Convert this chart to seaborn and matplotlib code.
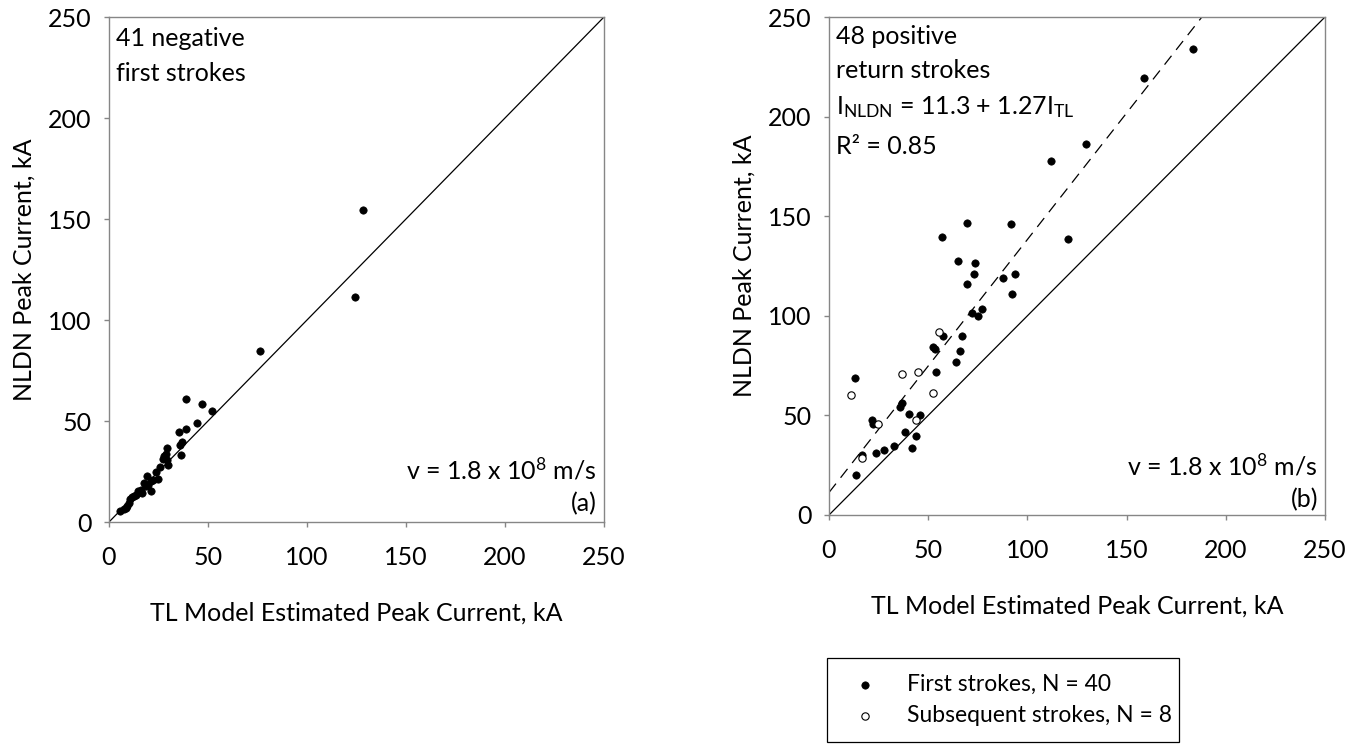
import numpy as np
import pandas as pd
import matplotlib
matplotlib.use("Agg")
import matplotlib.pyplot as plt
import seaborn as sns

# (a) 41 negative first strokes: TL model estimate vs NLDN peak current, kA
tl_neg = [128.1, 124.2, 76.1, 38.7, 47.1, 52.2, 44.6, 35.4, 38.7, 37.0,
          35.9, 36.5, 29.5, 28.6, 27.3, 29.1, 30.0, 23.9, 19.2, 24.7,
          21.0, 17.7, 19.9, 21.0, 16.0, 14.6, 16.5, 13.5, 11.8, 10.6,
          9.3, 8.4, 5.4, 12.5, 15.5, 18.5, 22.0, 10.0, 7.5, 26.0, 28.0]
nldn_neg = [154.3, 111.2, 84.5, 61.1, 58.3, 54.8, 49.0, 44.6, 46.2, 39.6,
            38.0, 33.0, 36.6, 33.8, 31.4, 30.9, 28.1, 24.8, 22.8, 21.5,
            20.3, 19.3, 18.2, 15.3, 16.0, 15.2, 14.4, 13.5, 12.4, 11.6,
            7.8, 7.1, 5.4, 13.0, 14.8, 18.0, 21.0, 9.5, 6.5, 27.0, 32.5]

# (b) 48 positive return strokes
tl_pos_first = [183.6, 158.9, 129.7, 112.1, 69.6, 91.8, 56.8, 120.6, 64.8, 73.5,
                73.0, 93.5, 87.9, 69.5, 92.3, 77.3, 72.2, 75.3, 57.7, 67.1,
                52.4, 53.4, 66.0, 64.2, 53.8, 13.0, 37.0, 36.0, 40.3, 45.7,
                21.7, 22.0, 38.4, 43.7, 42.0, 32.6, 27.5, 23.5, 13.7, 16.5]
nldn_pos_first = [234.0, 219.2, 186.3, 177.9, 146.6, 145.9, 139.6, 138.8, 127.3, 126.4,
                  121.2, 121.2, 119.1, 116.0, 110.8, 103.4, 101.3, 100.0, 89.9, 89.9,
                  84.2, 83.5, 82.4, 77.0, 71.9, 68.7, 56.1, 54.0, 50.9, 50.2,
                  47.5, 45.5, 41.5, 39.9, 33.6, 34.4, 32.4, 30.9, 20.0, 30.2]
tl_pos_subseq = [55.5, 37.0, 44.9, 11.1, 52.6, 24.6, 44.0, 16.7]
nldn_pos_subseq = [92.1, 70.7, 71.9, 60.4, 61.3, 45.5, 47.7, 28.4]

# linear fit shown in (b)
fit_intercept = 11.3
fit_slope = 1.27

axis_max = 250
axis_ticks = [0, 50, 100, 150, 200, 250]
xlabel = "TL Model Estimated Peak Current, kA"
ylabel = "NLDN Peak Current, kA"
first_label = "First strokes, N = 40"
subseq_label = "Subsequent strokes, N = 8"

sns.set_style("white")
plt.rcParams['font.family'] = ['Lato', 'DejaVu Sans']
plt.rcParams['mathtext.default'] = 'regular'

FS = 18
LEG_FS = 16.5
SPINE = '#868686'

fig = plt.figure(figsize=(13.64, 7.44), dpi=100)
W, H = 1364, 744


def px_axes(x0, y0, x1, y1):
    return fig.add_axes([x0 / W, 1 - y1 / H, (x1 - x0) / W, (y1 - y0) / H])


ax_a = px_axes(109, 17, 604, 522)
ax_b = px_axes(829, 17, 1325, 515)


def style_axes(ax):
    ax.set_xlim(0, axis_max)
    ax.set_ylim(0, axis_max)
    ax.set_xticks(axis_ticks)
    ax.set_yticks(axis_ticks)
    for sp in ax.spines.values():
        sp.set_visible(True)
        sp.set_color(SPINE)
        sp.set_linewidth(1.0)
    ax.tick_params(axis='both', which='both', bottom=True, left=True,
                   direction='out', length=3.6, width=1.0, color=SPINE,
                   labelsize=FS, labelcolor='black')
    ax.tick_params(axis='x', pad=14)
    ax.tick_params(axis='y', pad=9)
    ax.set_xlabel(xlabel, fontsize=FS, color='black', labelpad=23)
    ax.set_ylabel(ylabel, fontsize=FS, color='black', labelpad=9)


def corner_text(ax, lines_a, lines_b):
    # upper-left block, one text per line
    for txt, dy in lines_a:
        ax.annotate(txt, xy=(0, 1), xycoords='axes fraction',
                    xytext=(7, -dy), textcoords='offset pixels',
                    ha='left', va='center', fontsize=FS, color='black')
    # lower-right block
    for txt, dy in lines_b:
        ax.annotate(txt, xy=(1, 0), xycoords='axes fraction',
                    xytext=(-7, dy), textcoords='offset pixels',
                    ha='right', va='center', fontsize=FS, color='black')


ref_x = np.array([0, axis_max])

# ---- panel (a)
ax_a.plot(ref_x, ref_x, color='black', lw=0.9, zorder=1)
sns.scatterplot(x=tl_neg, y=nldn_neg, color='black', s=28, edgecolor='black',
                linewidth=0.5, legend=False, zorder=3, ax=ax_a)
style_axes(ax_a)
corner_text(ax_a,
            [("41 negative", 21), ("first strokes", 56)],
            [("v = 1.8 x 10$^{8}$ m/s", 52), ("(a)", 18)])

# ---- panel (b)
ax_b.plot(ref_x, ref_x, color='black', lw=0.9, zorder=1)
ax_b.plot(ref_x, fit_intercept + fit_slope * ref_x, color='black', lw=0.9,
          linestyle=(0, (9, 6)), zorder=1)
sns.scatterplot(x=tl_pos_first, y=nldn_pos_first, color='black', s=28,
                edgecolor='black', linewidth=0.5, label=first_label,
                legend=False, zorder=3, ax=ax_b)
sns.scatterplot(x=tl_pos_subseq, y=nldn_pos_subseq, color='white', s=28,
                edgecolor='black', linewidth=0.8, label=subseq_label,
                legend=False, zorder=3, ax=ax_b)
style_axes(ax_b)
corner_text(ax_b,
            [("48 positive", 19), ("return strokes", 53),
             ("$I_{NLDN}$ = %.1f + %.2f$I_{TL}$" % (fit_intercept, fit_slope), 90),
             ("R\u00b2 = 0.85", 129)],
            [("v = 1.8 x 10$^{8}$ m/s", 49), ("(b)", 15)])

handles, labels = ax_b.get_legend_handles_labels()
if ax_b.get_legend() is not None:
    ax_b.get_legend().remove()
leg = fig.legend(handles, labels, loc='lower left',
                 bbox_to_anchor=(827 / W, 1 - 742 / H, 352 / W, 82 / H),
                 mode='expand', borderaxespad=0, borderpad=0.7,
                 handlelength=1.92, handletextpad=0.87, labelspacing=0.45,
                 markerscale=1.0, fontsize=LEG_FS, frameon=True, fancybox=False,
                 framealpha=1, edgecolor='black')
leg.get_frame().set_linewidth(0.9)
for t in leg.get_texts():
    t.set_color('black')

fig.savefig("out.png", dpi=100)
